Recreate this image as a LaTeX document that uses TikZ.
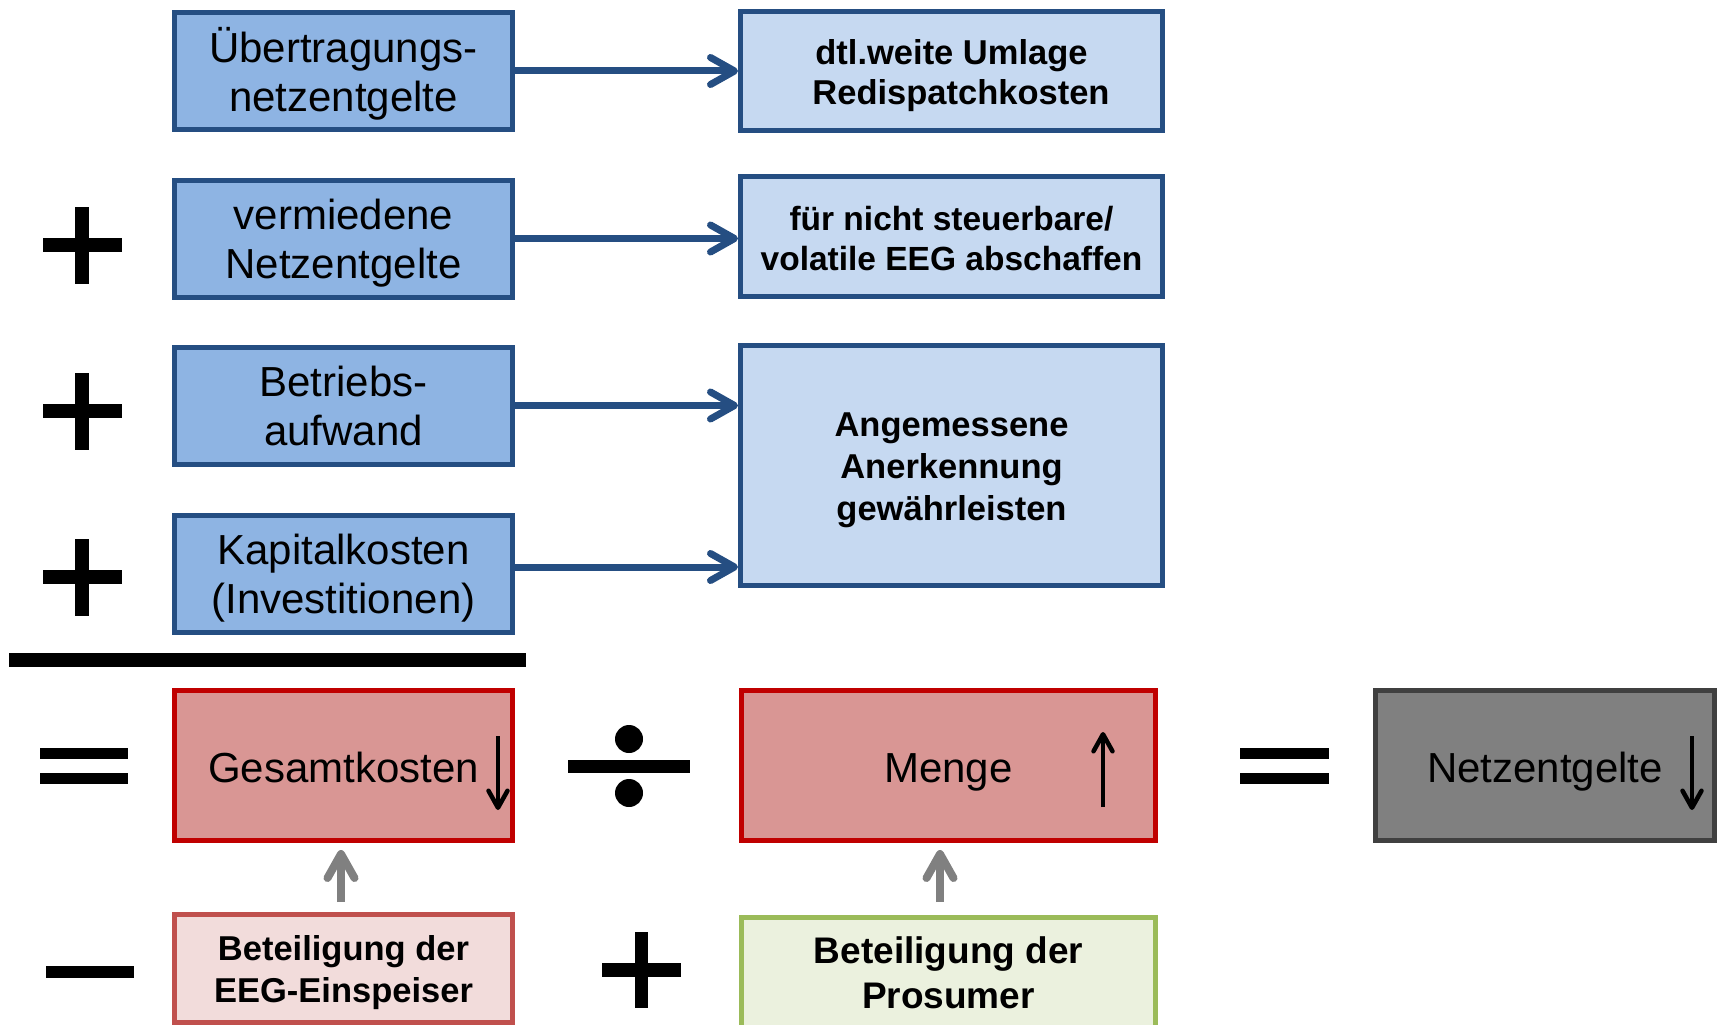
\documentclass[tikz,border=0pt]{standalone}
\usepackage{fontspec}
\setmainfont{Liberation Sans}
\usetikzlibrary{arrows.meta,calc}
\definecolor{bfill}{HTML}{8EB4E3}
\definecolor{bdraw}{HTML}{254E82}
\definecolor{lfill}{HTML}{C6D9F1}
\definecolor{rfill}{HTML}{D99694}
\definecolor{rdraw}{HTML}{C00000}
\definecolor{efill}{HTML}{F2DCDB}
\definecolor{edraw}{HTML}{C0504D}
\definecolor{pfill}{HTML}{EBF1DE}
\definecolor{pdraw}{HTML}{9BBB59}
\definecolor{nfill}{HTML}{808080}
\definecolor{ndraw}{HTML}{404040}
\definecolor{garrow}{HTML}{808080}
\newcommand{\bxt}[2]{\raisebox{#1}[\height][\depth]{\begin{tabular}{@{}c@{}}#2\end{tabular}}}
\begin{document}
\begin{tikzpicture}[x=1pt,y=-1pt,
  bigtxt/.style={font=\fontsize{42}{49}\selectfont},
  boldtxt/.style={font=\fontsize{34.5}{40.5}\selectfont\bfseries},
  basebox/.style={draw, line width=5pt, inner sep=0pt},
  bluebox/.style={basebox, fill=bfill, draw=bdraw, minimum width=338pt, minimum height=117pt, bigtxt},
  lightbox/.style={basebox, fill=lfill, draw=bdraw, minimum width=422pt, boldtxt},
  redbox/.style={basebox, fill=rfill, draw=rdraw, minimum height=150pt, bigtxt},
  graybox/.style={basebox, fill=nfill, draw=ndraw, minimum width=339pt, minimum height=150pt, bigtxt},
  eegbox/.style={basebox, fill=efill, draw=edraw, minimum width=338pt, minimum height=108pt, font=\fontsize{34.5}{42}\selectfont\bfseries},
  prosbox/.style={basebox, fill=pfill, draw=pdraw, minimum width=414pt, minimum height=110pt, font=\fontsize{37}{45}\selectfont\bfseries},
  bluearrow/.style={draw=bdraw, line width=7pt, -{Straight Barb[length=24pt,width=27pt,round]}},
  grayarrow/.style={draw=garrow, line width=8pt, -{Straight Barb[length=24pt,width=27pt,round]}},
  blackarrow/.style={draw=black, line width=4.5pt, -{Straight Barb[length=17pt,width=19pt,round]}},
  opfill/.style={fill=black}
]
\useasboundingbox (0,0) rectangle (1717,1025);
\clip (0,0) rectangle (1717,1025);

% left blue boxes
\node[bluebox] (b1) at (343.5,71) {\bxt{-6pt}{Übertragungs-\\netzentgelte}};
\node[bluebox] (b2) at (343.5,238.5) {\bxt{-6pt}{vermiedene\\Netzentgelte}};
\node[bluebox] (b3) at (343.5,405.5) {\bxt{-6pt}{Betriebs-\\aufwand}};
\node[bluebox] (b4) at (343.5,573.5) {\bxt{-6pt}{Kapitalkosten\\(Investitionen)}};

% right light boxes
\node[lightbox, minimum height=119pt] (r1) at (951.5,71) {\bxt{-5.5pt}{dtl.weite Umlage\\\hspace*{19pt}Redispatchkosten}};
\node[lightbox, minimum height=120pt, font=\fontsize{33.5}{40}\selectfont\bfseries] (r2) at (951.5,236.5) {\bxt{-5.5pt}{für nicht steuerbare/\\volatile EEG abschaffen}};
\node[lightbox, minimum height=240pt, font=\fontsize{34.5}{42}\selectfont\bfseries] (r3) at (951.5,465.5) {\bxt{-5pt}{Angemessene\\Anerkennung\\gewährleisten}};

% arrows blue
\draw[bluearrow] (b1.east) -- (b1.east -| r1.west);
\draw[bluearrow] (b2.east) -- (b2.east -| r2.west);
\draw[bluearrow] (b3.east) -- (b3.east -| r3.west);
\draw[bluearrow] ([yshift=6.5pt]b4.east) -- ([yshift=6.5pt]b4.east -| r3.west);

% bottom row
\node[redbox, minimum width=338pt] (g) at (343.5,765.5) {\bxt{-7pt}{Gesamtkosten}};
\node[redbox, minimum width=414pt] (m) at (948.5,765.5) {\bxt{-7.5pt}{Menge}};
\node[graybox] (n) at (1545,765.5) {\bxt{-7.5pt}{Netzentgelte}};
\node[eegbox] (e) at (343.5,968.5) {\bxt{-4.4pt}{Beteiligung der\\EEG-Einspeiser}};
\node[prosbox] (p) at (948.5,972.5) {\bxt{-4.4pt}{Beteiligung der\\Prosumer}};

% gray arrows
\draw[grayarrow, shorten <=10pt, shorten >=7pt] ([xshift=-2.5pt]e.north) -- ([xshift=-2.5pt]e.north |- g.south);
\draw[grayarrow, shorten <=13pt, shorten >=7pt] ([xshift=-8.5pt]p.north) -- ([xshift=-8.5pt]p.north |- m.south);

% black trend arrows
\coordinate (ga1) at (498,736);
\coordinate (ga2) at (498,810);
\draw[blackarrow] (ga1) -- (ga2);
\coordinate (ma1) at (1103,807);
\coordinate (ma2) at (1103,732);
\draw[blackarrow] (ma1) -- (ma2);
\coordinate (na1) at (1692,736);
\coordinate (na2) at (1692,810);
\draw[blackarrow] (na1) -- (na2);

% operators
\foreach \cy in {245,411,577}{
  \fill[opfill] (43,\cy-7) rectangle (122,\cy+7);
  \fill[opfill] (75,\cy-38.5) rectangle (89,\cy+38.5);
}
% sum bar
\fill[opfill] (9,653) rectangle (526,667);
% equals
\fill[opfill] (40,748) rectangle (128,759);
\fill[opfill] (40,773) rectangle (128,784);
\fill[opfill] (1240,748) rectangle (1329,759);
\fill[opfill] (1240,773) rectangle (1329,784);
% division
\fill[opfill] (568,760) rectangle (690,773);
\fill[opfill] (629,739) circle (14);
\fill[opfill] (629,793) circle (14);
% minus
\fill[opfill] (45.5,966) rectangle (134,978);
% plus bottom
\fill[opfill] (602,963) rectangle (681,977);
\fill[opfill] (635,932) rectangle (648,1008);
\end{tikzpicture}
\end{document}
